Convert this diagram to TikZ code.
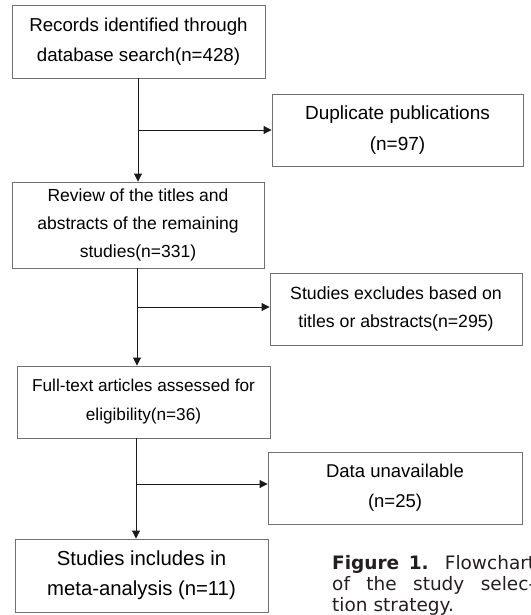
\documentclass[tikz,border=0pt]{standalone}
\usepackage{fontspec}
\setmainfont{Liberation Sans}
\newfontfamily\capfont{DejaVu Sans}
\usetikzlibrary{arrows.meta}
\definecolor{boxgray}{HTML}{707070}
\definecolor{linegray}{HTML}{1A1A1A}
\definecolor{captext}{HTML}{231F20}
\begin{document}
\begin{tikzpicture}[x=1pt,y=-1pt,
  box/.style={draw=boxgray, line width=0.9pt, inner sep=0pt, align=center, text=black},
  fs/.style 2 args={font=\fontsize{#1}{#2}\selectfont},
  ln/.style={draw=linegray, line width=0.9pt},
  arr/.style={draw=linegray, line width=0.9pt, -{Triangle[length=8pt,width=8pt]}},
  capnode/.style={inner sep=0pt, text=captext, anchor=base west}]
\useasboundingbox (0,0) rectangle (530,615);
\clip (0,0) rectangle (530,615);

\node[box, fs={18.7}{30}, minimum width=253pt, minimum height=73pt] (b1) at (138.5,41.5)
  {Records identified through\\database search(n=428)};
\node[box, fs={19}{31}, minimum width=251pt, minimum height=72pt] (b2) at (397.5,130)
  {Duplicate publications\\(n=97)};
\node[box, fs={17.5}{28.4}, minimum width=252pt, minimum height=86pt] (b3) at (138,225)
  {Review of the titles and\\abstracts of the remaining\\studies(n=331)};
\node[box, fs={17.7}{28.3}, minimum width=252pt, minimum height=72pt] (b4) at (396,309)
  {Studies excludes based on\\titles or abstracts(n=295)};
\node[box, fs={17.2}{29}, minimum width=253pt, minimum height=72pt] (b5) at (143.5,402)
  {Full-text articles assessed for\\eligibility(n=36)};
\node[box, fs={18.5}{30}, minimum width=254pt, minimum height=72pt] (b6) at (395,488)
  {Data unavailable\\(n=25)};
\node[box, fs={20.3}{30}, minimum width=253pt, minimum height=73pt] (b7) at (141.5,575.5)
  {Studies includes in\\meta-analysis (n=11)};

\coordinate (j1) at (138,130);
\coordinate (j2) at (137,307);
\coordinate (j3) at (136,484);

\draw[ln] (b1.south -| j1) -- (j1);
\draw[arr] (j1) -- (j1 -| b2.west);
\draw[arr] (j1) -- (j1 |- b3.north);

\draw[ln] (b3.south -| j2) -- (j2);
\draw[arr] (j2) -- (j2 -| b4.west);
\draw[arr] (j2) -- (j2 |- b5.north);

\draw[ln] (b5.south -| j3) -- (j3);
\draw[arr] (j3) -- (j3 -| b6.west);
\draw[arr] (j3) -- (j3 |- b7.north);

\node[capnode] (c1) at (332,569)
  {\capfont\fontsize{18.5}{21}\selectfont\makebox[203pt][s]{\textbf{Figure 1.} Flowchart}};
\node[capnode] (c2) at (332,590)
  {\capfont\fontsize{18.5}{21}\selectfont\makebox[203pt][s]{of the study selec-}};
\node[capnode] (c3) at (332,611)
  {\capfont\fontsize{18.5}{21}\selectfont tion strategy.};
\end{tikzpicture}
\end{document}
